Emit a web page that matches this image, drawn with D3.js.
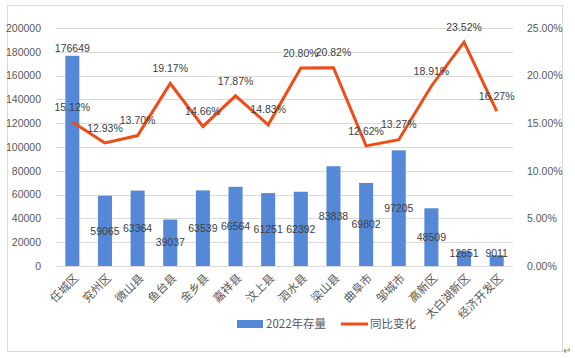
<!DOCTYPE html>
<html>
<head>
<meta charset="utf-8">
<script src="https://d3js.org/d3.v7.min.js"></script>
<style>
  body { margin: 0; background: #fff; }
  text { font-family: "Liberation Sans", Arial, sans-serif; }
  .cjk { font-family: "Noto Sans CJK SC", sans-serif; }
</style>
</head>
<body>
<svg width="575" height="358"></svg>
<script>
var regions = ['任城区','兖州区','微山县','鱼台县','金乡县','嘉祥县','汶上县','泗水县','梁山县','曲阜市','邹城市','高新区','太白湖新区','经济开发区'];
var stock = [176649, 59065, 63364, 39037, 63539, 66564, 61251, 62392, 83838, 69802, 97205, 48509, 12651, 9011];
var growth = [15.12, 12.93, 13.70, 19.17, 14.66, 17.87, 14.83, 20.80, 20.82, 12.62, 13.27, 18.91, 23.52, 16.27];
var leftTicks = [0, 20000, 40000, 60000, 80000, 100000, 120000, 140000, 160000, 180000, 200000];
var rightTicks = [0, 5, 10, 15, 20, 25];
var legendNames = ['2022年存量', '同比变化'];

var svg = d3.select("svg");
var plotL = 56, plotR = 513, plotT = 28, plotB = 266;
var barColor = "#5589d8", lineColor = "#ef4c17";

// chart frame
svg.append("rect").attr("x", 7.5).attr("y", 5.5).attr("width", 555).attr("height", 346)
   .attr("fill", "none").attr("stroke", "#d9d9d9");
svg.append("text").attr("x", 563).attr("y", 354).attr("font-size", 10).attr("fill", "#808080").text("↵");

var x = d3.scaleBand().domain(regions).range([plotL, plotR]).paddingInner(0.57).paddingOuter(0.285);
var y = d3.scaleLinear().domain([0, 200000]).range([plotB, plotT]);
var y2 = d3.scaleLinear().domain([0, 25]).range([plotB, plotT]);
var cx = function(d) { return x(d) + x.bandwidth() / 2; };

// gridlines
svg.append("g").selectAll("line").data(leftTicks).enter().append("line")
   .attr("x1", plotL).attr("x2", plotR)
   .attr("y1", function(d) { return Math.round(y(d)) + 0.5; })
   .attr("y2", function(d) { return Math.round(y(d)) + 0.5; })
   .attr("stroke", "#d9d9d9");

// left axis
var ay = svg.append("g").attr("transform", "translate(" + (plotL - 12) + ",0)")
   .call(d3.axisLeft(y).tickValues(leftTicks).tickSize(0).tickFormat(d3.format("d")));
ay.select(".domain").remove();
ay.selectAll("text").attr("font-size", 10.5).attr("fill", "#595959").attr("font-family", "Liberation Sans, Arial, sans-serif");

// right axis
var ay2 = svg.append("g").attr("transform", "translate(" + (plotR + 11) + ",0)")
   .call(d3.axisRight(y2).tickValues(rightTicks).tickSize(0).tickFormat(function(d) { return d.toFixed(2) + "%"; }));
ay2.select(".domain").remove();
ay2.selectAll("text").attr("font-size", 10.5).attr("fill", "#595959").attr("font-family", "Liberation Sans, Arial, sans-serif");

// bars
svg.append("g").selectAll("rect").data(stock).enter().append("rect")
   .attr("x", function(d, i) { return x(regions[i]); })
   .attr("width", x.bandwidth())
   .attr("y", function(d) { return y(d); })
   .attr("height", function(d) { return plotB - y(d); })
   .attr("fill", barColor);

// x labels
svg.append("g").selectAll("text").data(regions).enter().append("text")
   .attr("class", "cjk")
   .attr("transform", function(d) { return "translate(" + (cx(d) + 4) + "," + (plotB + 10) + ") rotate(-45)"; })
   .attr("text-anchor", "end")
   .attr("dy", "0.35em")
   .attr("font-size", 11.5)
   .attr("fill", "#595959")
   .text(function(d) { return d; });

// line
var line = d3.line()
   .x(function(d, i) { return cx(regions[i]); })
   .y(function(d) { return y2(d); });
svg.append("path").datum(growth).attr("d", line)
   .attr("fill", "none").attr("stroke", lineColor).attr("stroke-width", 3).attr("stroke-linejoin", "miter");

// bar labels (centered, the first one sits above its bar)
svg.append("g").selectAll("text").data(stock).enter().append("text")
   .attr("x", function(d, i) { return cx(regions[i]); })
   .attr("y", function(d, i) {
      if (i === 0) return y(d) - 7;
      return Math.min((y(d) + plotB) / 2, plotB - 13);
   })
   .attr("dy", "0.35em")
   .attr("text-anchor", "middle")
   .attr("font-size", 10.5)
   .attr("fill", "#404040")
   .text(function(d) { return d; });

// line labels
svg.append("g").selectAll("text").data(growth).enter().append("text")
   .attr("x", function(d, i) { return cx(regions[i]); })
   .attr("y", function(d) { return y2(d) - 15; })
   .attr("dy", "0.35em")
   .attr("text-anchor", "middle")
   .attr("font-size", 10.5)
   .attr("fill", "#404040")
   .text(function(d) { return d.toFixed(2) + "%"; });

// legend
var lg = svg.append("g");
lg.append("rect").attr("x", 237).attr("y", 320).attr("width", 26).attr("height", 8).attr("fill", barColor);
lg.append("text").attr("class", "cjk").attr("x", 266).attr("y", 324).attr("dy", "0.35em")
  .attr("font-size", 11.5).attr("fill", "#595959").text(legendNames[0]);
lg.append("line").attr("x1", 341).attr("x2", 368).attr("y1", 324).attr("y2", 324)
  .attr("stroke", lineColor).attr("stroke-width", 3);
lg.append("text").attr("class", "cjk").attr("x", 370).attr("y", 324).attr("dy", "0.35em")
  .attr("font-size", 11.5).attr("fill", "#595959").text(legendNames[1]);
</script>
</body>
</html>
